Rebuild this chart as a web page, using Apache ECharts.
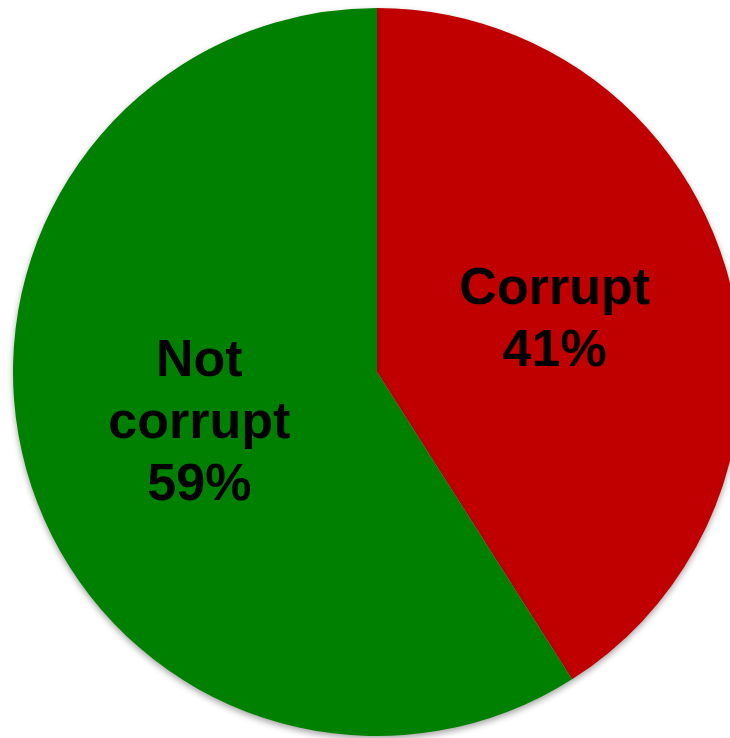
<!DOCTYPE html>
<html>
<head>
<meta charset="utf-8">
<script src="https://cdn.jsdelivr.net/npm/echarts@6/dist/echarts.min.js"></script>
<style>html,body{margin:0;padding:0;background:#fff}#c{width:730px;height:738px}</style>
</head>
<body>
<div id="c"></div>
<script>
var categories = ["Corrupt", "Not\ncorrupt"];
var values = [41, 59];
var colors = ["#C00000", "#008000"];

var chart = echarts.init(document.getElementById('c'));
chart.setOption({
  animation: false,
  series: [{
    type: 'pie',
    center: [377, 372],
    radius: [0, 364],
    startAngle: 90,
    clockwise: true,
    silent: true,
    data: categories.map(function (c, i) {
      return { name: c, value: values[i], itemStyle: { color: colors[i] } };
    }),
    itemStyle: {
      borderWidth: 0,
      shadowBlur: 6,
      shadowOffsetY: 3,
      shadowColor: 'rgba(0,0,0,0.35)'
    },
    label: {
      show: true,
      position: 'inside',
      formatter: '{b}\n{c}%',
      color: '#000',
      fontFamily: 'Liberation Sans, Arial, sans-serif',
      fontWeight: 'bold',
      fontSize: 52,
      lineHeight: 62,
      padding: [10, 0, 0, 0]
    },
    labelLine: { show: false }
  }]
});
</script>
</body>
</html>
